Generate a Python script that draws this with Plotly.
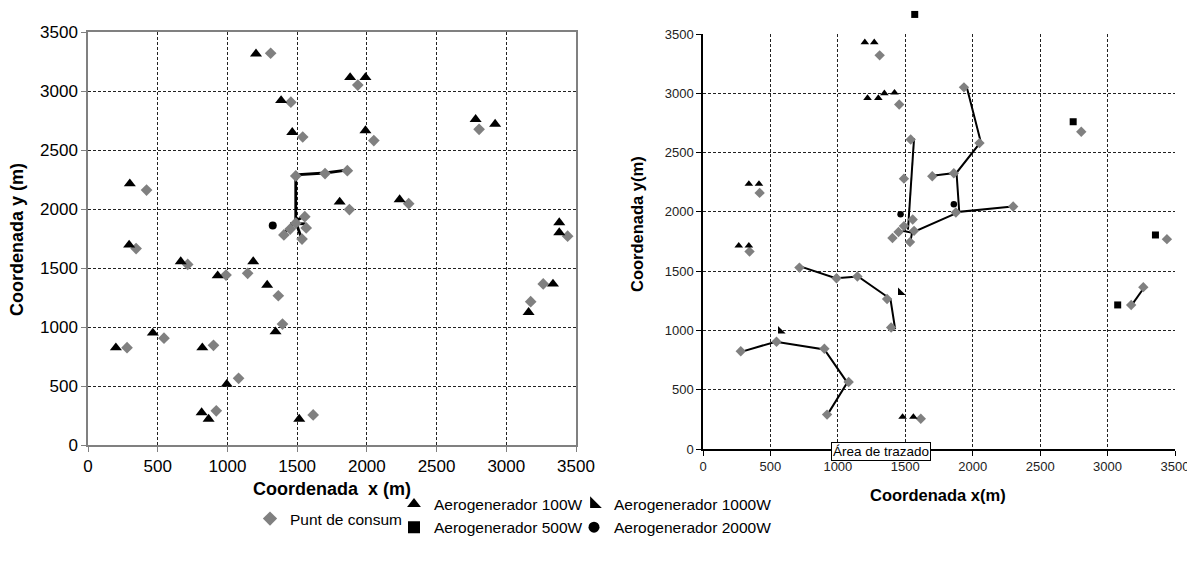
import plotly.graph_objects as go

# ---------------- data ----------------
# Punt de consum (same consumption points on both maps)
consum_x = [1310, 1935, 1455, 1540, 2050, 2805, 420, 1490, 1700, 1860, 1875, 2300,
            1555, 1565, 1405, 1535, 1450, 1490, 3440, 345, 715, 990, 1145, 1365,
            3265, 3175, 1395, 545, 280, 900, 1080, 920, 1615]
consum_y = [3320, 3050, 2905, 2610, 2580, 2675, 2160, 2280, 2300, 2325, 1995, 2045,
            1935, 1840, 1780, 1745, 1830, 1880, 1770, 1665, 1530, 1440, 1455, 1265,
            1365, 1215, 1025, 905, 825, 845, 565, 290, 255]

# Left map: Aerogenerador 100W
l_100_x = [1205, 1880, 1990, 1385, 1465, 1990, 2780, 2920, 300, 1805, 2235, 3380,
           3380, 295, 665, 1185, 930, 1285, 3335, 3160, 465, 1345, 200, 820, 995,
           815, 865, 1515]
l_100_y = [3315, 3115, 3115, 2920, 2650, 2665, 2760, 2720, 2215, 2060, 2080, 1885,
           1800, 1695, 1555, 1555, 1435, 1355, 1365, 1125, 950, 960, 825, 825, 515,
           275, 220, 220]
# Left map: Aerogenerador 2000W
l_2000_x = [1325]
l_2000_y = [1860]
# Left map: network lines (polylines)
l_lines = [
    [(1855, 2330), (1700, 2305), (1490, 2290), (1490, 1890)],
    [(1490, 1890), (1450, 1850), (1415, 1805)],
    [(1490, 1890), (1535, 1740)],
    [(1450, 1875), (1560, 1875)],
    [(1490, 1900), (1545, 1935)],
]

# Right map
r_100_x = [1200, 1270, 1220, 1300, 1345, 1420, 340, 415, 265, 340, 1480, 1560]
r_100_y = [3430, 3430, 2960, 2960, 3000, 3005, 2235, 2235, 1715, 1715, 270, 270]
r_500_x = [1570, 2745, 3355, 3075]
r_500_y = [3665, 2760, 1805, 1215]
r_1000_x = [575, 1465]
r_1000_y = [995, 1320]
r_2000_x = [1465, 1860]
r_2000_y = [1980, 2065]
r_lines = [
    [(1565, 2620), (1520, 1850)],
    [(1955, 3055), (2060, 2590), (1880, 2330), (1700, 2305)],
    [(1880, 2330), (1900, 2000), (2295, 2045)],
    [(1900, 2000), (1550, 1825), (1480, 1840)],
    [(1550, 1825), (1540, 1760)],
    [(720, 1540), (985, 1440), (1150, 1455), (1390, 1265), (1425, 1010)],
    [(270, 815), (540, 905), (900, 840), (1070, 560), (915, 275)],
    [(3180, 1215), (3270, 1360)],
]

tick_vals = [0, 500, 1000, 1500, 2000, 2500, 3000, 3500]
tick_text = ["0", "500", "1000", "1500", "2000", "2500", "3000", "3500"]


def flatten(lines):
    xs, ys = [], []
    for seg in lines:
        for (a, b) in seg:
            xs.append(a)
            ys.append(b)
        xs.append(None)
        ys.append(None)
    return xs, ys


# the page body has an 8px margin; figure sized so it ends at the window edge
W, H = 1187, 540
OX, OY = 8, 8


def PX(X):
    return (X - OX) / W


def PY(Y):
    return 1 - (Y - OY) / H


GRAY = "#808080"
FONT = "Liberation Sans, Arial, sans-serif"

fig = go.Figure()

# ---- left map ----
lx, ly = flatten(l_lines)
fig.add_trace(go.Scatter(x=lx, y=ly, mode="lines", line=dict(color="black", width=2.8),
                         xaxis="x", yaxis="y", showlegend=False, hoverinfo="skip"))
fig.add_trace(go.Scatter(x=consum_x, y=consum_y, mode="markers", xaxis="x", yaxis="y",
                         marker=dict(symbol="diamond", size=9, color=GRAY, line=dict(width=0)),
                         showlegend=False))
fig.add_trace(go.Scatter(x=l_100_x, y=l_100_y, mode="markers", xaxis="x", yaxis="y",
                         marker=dict(symbol="triangle-up", size=10.5, color="black", line=dict(width=0)),
                         showlegend=False))
fig.add_trace(go.Scatter(x=l_2000_x, y=l_2000_y, mode="markers", xaxis="x", yaxis="y",
                         marker=dict(symbol="circle", size=8, color="black", line=dict(width=0)),
                         showlegend=False))

# ---- right map ----
rx, ry = flatten(r_lines)
fig.add_trace(go.Scatter(x=rx, y=ry, mode="lines", line=dict(color="black", width=2),
                         xaxis="x2", yaxis="y2", showlegend=False, hoverinfo="skip"))
fig.add_trace(go.Scatter(x=consum_x, y=consum_y, mode="markers", xaxis="x2", yaxis="y2",
                         marker=dict(symbol="diamond", size=8, color=GRAY, line=dict(width=0)),
                         showlegend=False))
fig.add_trace(go.Scatter(x=r_100_x, y=r_100_y, mode="markers", xaxis="x2", yaxis="y2",
                         marker=dict(symbol="triangle-up", size=7.5, color="black", line=dict(width=0)),
                         showlegend=False))
# 500W squares on hidden axes with the same scale but a taller y extent (one lies above 3500)
fig.add_trace(go.Scatter(x=r_500_x, y=r_500_y, mode="markers", xaxis="x3", yaxis="y3",
                         cliponaxis=False,
                         marker=dict(symbol="square", size=7, color="black", line=dict(width=0)),
                         showlegend=False))
fig.add_trace(go.Scatter(x=r_1000_x, y=r_1000_y, mode="markers", xaxis="x2", yaxis="y2",
                         marker=dict(symbol="triangle-sw", size=8.5, color="black", line=dict(width=0)),
                         showlegend=False))
fig.add_trace(go.Scatter(x=r_2000_x, y=r_2000_y, mode="markers", xaxis="x2", yaxis="y2",
                         marker=dict(symbol="circle", size=6.5, color="black", line=dict(width=0)),
                         showlegend=False))

# ---- legend-only entries ----
legend_items = [
    ("Punt de consum", "diamond", GRAY, 11, "legend", 1),
    ("Aerogenerador 100W", "triangle-up", "black", 12, "legend2", 1),
    ("Aerogenerador 500W", "square", "black", 12, "legend2", 2),
    ("Aerogenerador 1000W", "triangle-sw", "black", 13, "legend3", 1),
    ("Aerogenerador 2000W", "circle", "black", 11, "legend3", 2),
]
for name, sym, col, sz, lg, rank in legend_items:
    fig.add_trace(go.Scatter(x=[None], y=[None], mode="markers", name=name, legend=lg,
                             legendrank=rank, xaxis="x", yaxis="y",
                             marker=dict(symbol=sym, size=sz, color=col, line=dict(width=0))))

# ---- layout (screen pixel boxes of the two plot areas) ----
L = dict(x0=88, x1=576, y0=32, y1=445)
R = dict(x0=703, x1=1175, y0=34, y1=449)
R_TOP3 = 9  # top pixel of the hidden taller axis
y3_top = 3500 + (R["y0"] - R_TOP3) * 3500 / (R["y1"] - R["y0"])

grid_common = dict(showgrid=True, gridcolor="#222222", griddash="3px,2px", gridwidth=1,
                   zeroline=False, tickmode="array", tickvals=tick_vals, ticktext=tick_text,
                   range=[0, 3500], ticks="outside", ticklen=5, automargin=False,
                   ticklabeloverflow="allow")

leg_font = dict(family=FONT, size=15.5, color="black")
fig.update_layout(
    width=W, height=H,
    margin=dict(l=0, r=0, t=0, b=0, autoexpand=False),
    paper_bgcolor="white", plot_bgcolor="rgba(0,0,0,0)",
    showlegend=True,
    xaxis=dict(domain=[PX(L["x0"]), PX(L["x1"])], anchor="y", **grid_common,
               showline=True, linecolor=GRAY, linewidth=1.5, mirror=True, tickcolor=GRAY,
               tickfont=dict(family=FONT, size=17, color="black")),
    yaxis=dict(domain=[PY(L["y1"]), PY(L["y0"])], anchor="x", **grid_common,
               showline=True, linecolor=GRAY, linewidth=1.5, mirror=True, tickcolor=GRAY,
               tickfont=dict(family=FONT, size=17, color="black")),
    xaxis2=dict(domain=[PX(R["x0"]), PX(R["x1"])], anchor="y2", **grid_common,
                showline=True, linecolor="black", linewidth=1.5, tickcolor="black",
                tickfont=dict(family=FONT, size=13, color="#222222")),
    yaxis2=dict(domain=[PY(R["y1"]), PY(R["y0"])], anchor="x2", **grid_common,
                showline=True, linecolor="black", linewidth=1.5, tickcolor="black",
                tickfont=dict(family=FONT, size=13, color="#222222")),
    xaxis3=dict(domain=[PX(R["x0"]), PX(R["x1"])], anchor="y3", range=[0, 3500],
                visible=False, showgrid=False, zeroline=False, automargin=False),
    yaxis3=dict(domain=[PY(R["y1"]), PY(R_TOP3)], anchor="x3", range=[0, y3_top],
                visible=False, showgrid=False, zeroline=False, automargin=False),
    legend=dict(x=PX(250), y=PY(519), xanchor="left", yanchor="middle",
                bgcolor="rgba(0,0,0,0)", font=leg_font),
    legend2=dict(x=PX(394), y=PY(516), xanchor="left", yanchor="middle",
                 bgcolor="rgba(0,0,0,0)", font=leg_font, tracegroupgap=0),
    legend3=dict(x=PX(574), y=PY(516), xanchor="left", yanchor="middle",
                 bgcolor="rgba(0,0,0,0)", font=leg_font, tracegroupgap=0),
    annotations=[
        dict(text="<b>Coordenada  x (m)</b>", x=PX(332), y=PY(489), xref="paper", yref="paper",
             xanchor="center", yanchor="middle", showarrow=False,
             font=dict(family=FONT, size=18, color="black")),
        dict(text="<b>Coordenada y (m)</b>", x=PX(17), y=PY(240), xref="paper", yref="paper",
             xanchor="center", yanchor="middle", showarrow=False, textangle=-90,
             font=dict(family=FONT, size=18, color="black")),
        dict(text="<b>Coordenada x(m)</b>", x=PX(938), y=PY(495), xref="paper", yref="paper",
             xanchor="center", yanchor="middle", showarrow=False,
             font=dict(family=FONT, size=16.5, color="black")),
        dict(text="<b>Coordenada y(m)</b>", x=PX(637), y=PY(224), xref="paper", yref="paper",
             xanchor="center", yanchor="middle", showarrow=False, textangle=-90,
             font=dict(family=FONT, size=16.5, color="black")),
        dict(text="Área de trazado", x=PX(881), y=PY(451), xref="paper", yref="paper",
             xanchor="center", yanchor="middle", showarrow=False, bgcolor="white",
             bordercolor="black", borderwidth=1, borderpad=1,
             font=dict(family=FONT, size=13.5, color="black")),
    ],
)

fig.write_html("out.html")
